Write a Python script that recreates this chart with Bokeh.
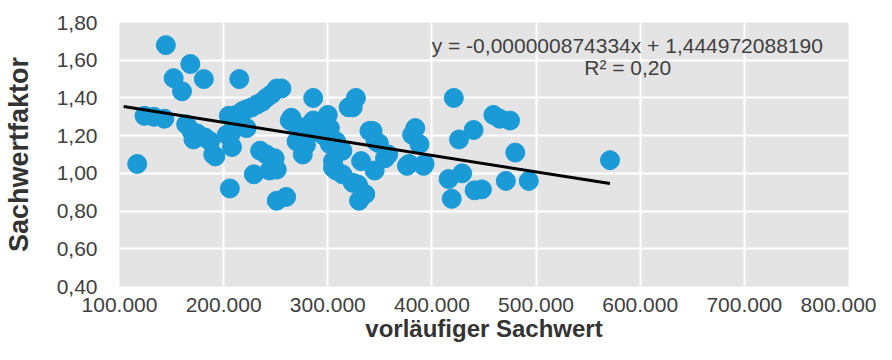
from bokeh.plotting import figure
from bokeh.models import Range1d, Label, FixedTicker
from bokeh.embed import file_html
from bokeh.resources import INLINE

# --- data ---
sachwert = [117, 124, 133, 143, 144.5, 152, 160, 168, 181, 215,
            164, 169, 171, 175, 182, 187, 190, 192, 203, 207,
            208, 206, 205, 212, 218, 222, 227, 232, 237, 241,
            246, 251, 255.5, 222, 229, 235, 241, 244, 249, 251,
            251, 260, 263.5, 265, 267, 270, 276, 276, 279, 283,
            286, 286, 290, 296, 300, 302, 302, 305, 305, 308,
            308, 314, 314, 320, 324, 327, 324, 329, 332, 330,
            336, 340, 343, 346, 349, 355, 345, 358, 378, 381,
            384, 388, 393, 376, 392, 421, 426, 440, 459, 465,
            475, 480, 416, 429, 419, 441, 448, 471, 493, 571]
sachwert = [v * 1000 for v in sachwert]
faktor = [1.05, 1.305, 1.30, 1.29, 1.68, 1.505, 1.435, 1.58, 1.50, 1.50,
          1.26, 1.225, 1.18, 1.21, 1.19, 1.17, 1.10, 1.09, 1.205, 1.21,
          1.14, 0.92, 1.305, 1.31, 1.33, 1.34, 1.35, 1.365, 1.38, 1.40,
          1.42, 1.45, 1.45, 1.24, 0.995, 1.12, 1.10, 1.015, 1.08, 1.02,
          0.855, 0.875, 1.28, 1.295, 1.27, 1.17, 1.24, 1.10, 1.15, 1.26,
          1.40, 1.28, 1.22, 1.20, 1.31, 1.24, 1.155, 1.065, 1.03, 1.17,
          1.015, 1.12, 0.995, 1.35, 1.35, 1.40, 0.95, 0.94, 1.065, 0.855,
          0.89, 1.225, 1.225, 1.17, 1.16, 1.08, 1.015, 1.10, 1.05, 1.205,
          1.24, 1.155, 1.05, 1.04, 1.04, 1.40, 1.18, 1.23, 1.31, 1.29,
          1.28, 1.11, 0.97, 1.00, 0.865, 0.91, 0.915, 0.96, 0.96, 1.07]
slope = -0.000000874334
intercept = 1.444972088190
r_squared_text = "R² = 0,20"
equation_text = "y = -0,000000874334x  + 1,444972088190"
trend_range = [104000, 571000]
x_ticks = [100000, 200000, 300000, 400000, 500000, 600000, 700000, 800000]
x_tick_labels = ["100.000", "200.000", "300.000", "400.000", "500.000", "600.000", "700.000", "800.000"]
y_ticks = [0.4, 0.6, 0.8, 1.0, 1.2, 1.4, 1.6, 1.8]
y_tick_labels = ["0,40", "0,60", "0,80", "1,00", "1,20", "1,40", "1,60", "1,80"]
x_title = "vorläufiger Sachwert"
y_title = "Sachwertfaktor"

FONT = "'Liberation Sans', Arial, sans-serif"
TXT = "#404040"

p = figure(width=876, height=344, output_backend="svg", toolbar_location=None,
           x_range=Range1d(100000, 800000), y_range=Range1d(0.4, 1.8),
           min_border_left=117, min_border_right=28, min_border_top=22, min_border_bottom=54)
p.background_fill_color = "#e4e4e4"
p.border_fill_color = "white"
p.outline_line_color = None

p.xgrid.grid_line_color = "white"
p.ygrid.grid_line_color = "white"
p.xgrid.grid_line_width = 2
p.ygrid.grid_line_width = 2

p.xaxis.ticker = FixedTicker(ticks=x_ticks)
p.yaxis.ticker = FixedTicker(ticks=y_ticks)
p.xaxis.major_label_overrides = dict(zip(x_ticks, x_tick_labels))
p.yaxis.major_label_overrides = dict(zip(y_ticks, y_tick_labels))

for ax in (p.xaxis, p.yaxis):
    ax.axis_line_color = None
    ax.major_tick_line_color = None
    ax.minor_tick_line_color = None
    ax.major_label_text_font = FONT
    ax.major_label_text_font_size = "21px"
    ax.major_label_text_color = TXT
    ax.axis_label_text_font = FONT
    ax.axis_label_text_font_style = "bold"
    ax.axis_label_text_color = "#333333"

p.xaxis.axis_label = x_title
p.xaxis.axis_label_text_font_size = "24px"
p.xaxis.major_label_standoff = 5
p.xaxis.axis_label_standoff = 0

p.yaxis.axis_label = y_title
p.yaxis.axis_label_text_font_size = "27px"
p.yaxis.major_label_standoff = 16
p.yaxis.axis_label_standoff = 20

p.scatter(sachwert, faktor, size=19, fill_color="#1a9ad6", line_color="#1a9ad6",
          line_width=1, marker="circle")

trend_y = [slope * xv + intercept for xv in trend_range]
p.line(trend_range, trend_y, line_color="black", line_width=3)

p.add_layout(Label(x=781000, y=1.68, text=equation_text, text_align="right",
                   text_baseline="middle", text_font=FONT, text_font_size="21px",
                   text_color=TXT))
p.add_layout(Label(x=588000, y=1.56, text=r_squared_text, text_align="center",
                   text_baseline="middle", text_font=FONT, text_font_size="21px",
                   text_color=TXT))

open("out.html", "w").write(file_html(p, INLINE))
